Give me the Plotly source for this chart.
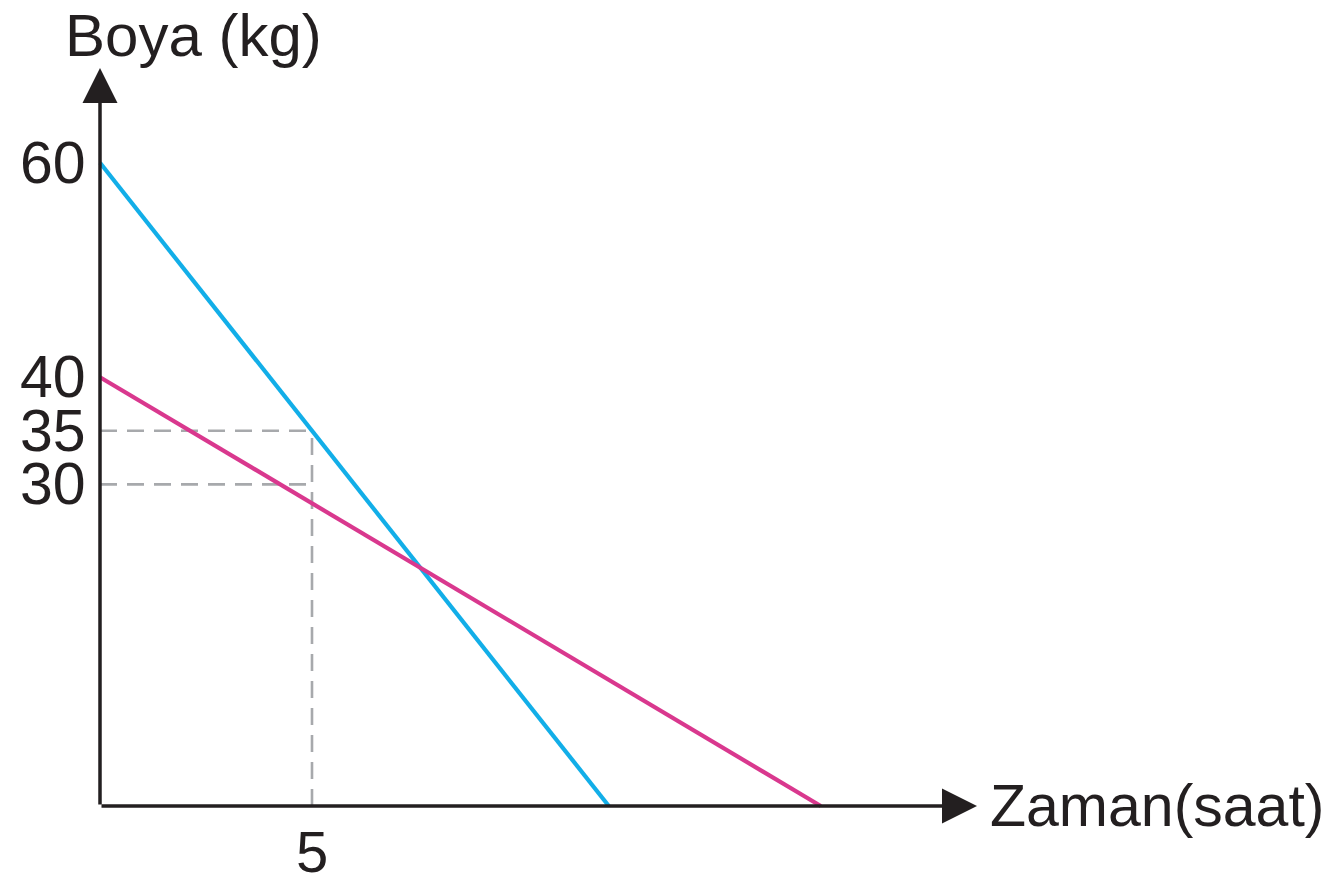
import plotly.graph_objects as go

# Data
blue_time = [0, 12]
blue_paint = [60, 0]
pink_time = [0, 17]
pink_paint = [40, 0]

y_tick_values = [60, 40, 35, 30]
x_tick_values = [5]

guide_time = 5
guide_levels = [35, 30]

y_axis_title = "Boya (kg)"
x_axis_title = "Zaman(saat)"

# The page body has an 8px margin, so the figure is laid out 8px smaller/offset
PAD = 8
W, H = 1332 - PAD, 884 - PAD
ox, oy = 100 - PAD, 806 - PAD      # pixel position of the origin inside the figure
sx, sy = 42.4, 10.72               # pixels per unit
x_range = [-ox / sx, (W - ox) / sx]
y_range = [-(H - oy) / sy, oy / sy]

INK = "#231f20"
BLUE = "#12aee8"
PINK = "#d9388e"
GRAY = "#a7a9ac"
FONT = "Liberation Sans"

fig = go.Figure()

# dashed guides
for lvl in guide_levels:
    fig.add_trace(go.Scatter(x=[0, guide_time], y=[lvl, lvl], mode="lines",
                             line=dict(color=GRAY, width=2.6, dash="17px,10px"),
                             hoverinfo="skip", showlegend=False))
fig.add_trace(go.Scatter(x=[guide_time, guide_time], y=[0, max(guide_levels)], mode="lines",
                         line=dict(color=GRAY, width=2.6, dash="17px,10px"),
                         hoverinfo="skip", showlegend=False))

fig.add_trace(go.Scatter(x=blue_time, y=blue_paint, mode="lines",
                         line=dict(color=BLUE, width=4.2), showlegend=False))
fig.add_trace(go.Scatter(x=pink_time, y=pink_paint, mode="lines",
                         line=dict(color=PINK, width=4.2), showlegend=False))

annotations = []
# axes with arrows
y_tip = (oy - (68 - PAD)) / sy
x_tip = ((977 - PAD) - ox) / sx
for tip in [dict(x=0, y=y_tip), dict(x=x_tip, y=0)]:
    annotations.append(dict(**tip, ax=0, ay=0, xref="x", yref="y", axref="x", ayref="y",
                            showarrow=True, arrowhead=2, arrowsize=2.0, arrowwidth=3.5,
                            arrowcolor=INK, text="", standoff=0, startstandoff=0))

# tick labels
for v in y_tick_values:
    annotations.append(dict(x=0, y=v, xref="x", yref="y", text=str(v), showarrow=False,
                            xanchor="right", yanchor="middle", xshift=-12,
                            font=dict(family=FONT, size=59, color=INK)))
for v in x_tick_values:
    annotations.append(dict(x=v, y=0, xref="x", yref="y", text=str(v), showarrow=False,
                            xanchor="center", yanchor="top", yshift=-11,
                            font=dict(family=FONT, size=58, color=INK)))

# axis titles
annotations.append(dict(x=(193 - PAD) / W, y=1, xref="paper", yref="paper",
                        text=y_axis_title, showarrow=False, xanchor="center", yanchor="top",
                        yshift=8,
                        font=dict(family=FONT, size=60, color=INK)))
annotations.append(dict(x=((988 - PAD) - ox) / sx, y=0, xref="x", yref="y", text=x_axis_title,
                        showarrow=False, xanchor="left", yanchor="middle",
                        font=dict(family=FONT, size=59, color=INK)))

fig.update_layout(
    width=W, height=H,
    margin=dict(l=0, r=0, t=0, b=0),
    paper_bgcolor="white", plot_bgcolor="white",
    xaxis=dict(range=x_range, visible=False, fixedrange=True),
    yaxis=dict(range=y_range, visible=False, fixedrange=True),
    annotations=annotations,
    showlegend=False,
)

fig.write_html("out.html")
